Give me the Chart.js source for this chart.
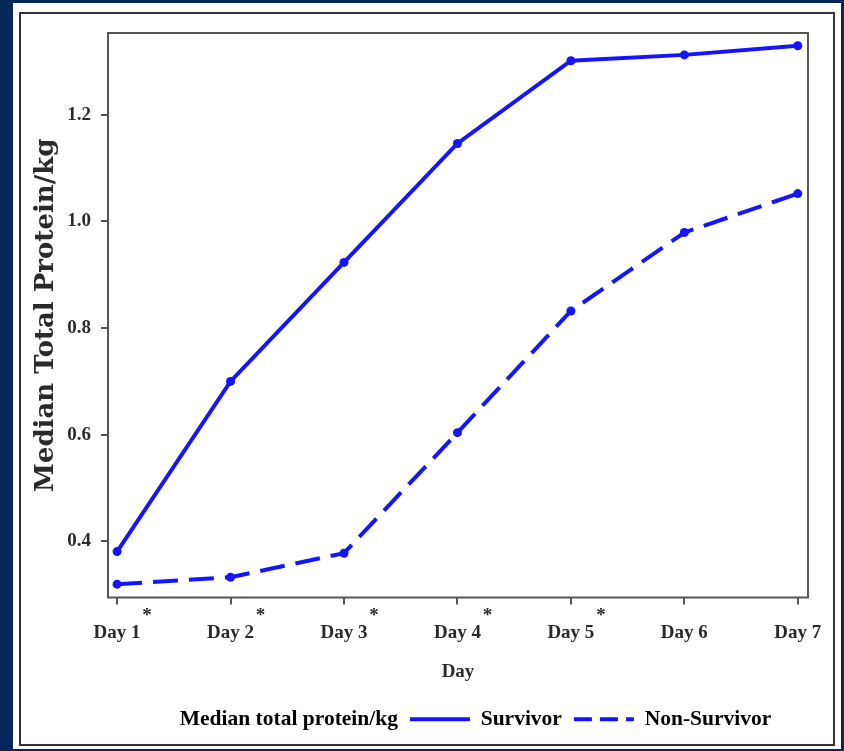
<!DOCTYPE html>
<html>
<head>
<meta charset="utf-8">
<title>Median Total Protein/kg</title>
<script src="https://cdn.jsdelivr.net/npm/chart.js@4.4.1/dist/chart.umd.min.js"></script>
<style>
    html, body { margin: 0; padding: 0; }
    body { width: 844px; height: 751px; background: #06275a; position: relative; overflow: hidden; }
    #panel { position: absolute; left: 13px; top: 3px; width: 828px; height: 746px; background: #fff; }
    #frame { position: absolute; left: 6px; top: 9px; width: 812px; height: 730px; border: 2px solid #333; }
</style>
</head>
<body>
<div id="panel">
    <div id="frame"><canvas id="proteinChart"></canvas></div>
</div>
<script>
// data
const days = [1, 2, 3, 4, 5, 6, 7];
const survivor = [0.381, 0.700, 0.923, 1.146, 1.301, 1.312, 1.329];
const nonSurvivor = [0.320, 0.333, 0.378, 0.604, 0.832, 0.979, 1.052];
const yTicks = [0.4, 0.6, 0.8, 1.0, 1.2];
const starredDays = [1, 2, 3, 4, 5];
const legendTitle = 'Median total protein/kg';

const BLUE = '#1414ff';
const INK = '#2a2a2a';
const SERIF = "'Liberation Serif', 'Times New Roman', serif";

// box around the plot area
const plotFrame = {
    id: 'plotFrame',
    afterDraw(chart) {
        const a = chart.chartArea;
        const ctx = chart.ctx;
        ctx.save();
        ctx.strokeStyle = '#555';
        ctx.lineWidth = 2;
        ctx.strokeRect(a.left, a.top, a.right - a.left, a.bottom - a.top);
        ctx.restore();
    }
};

// superscript asterisks after the significant day labels
const starMarks = {
    id: 'starMarks',
    afterDraw(chart) {
        const x = chart.scales.x;
        const ctx = chart.ctx;
        ctx.save();
        ctx.fillStyle = INK;
        ctx.font = 'bold 19px ' + SERIF;
        ctx.textAlign = 'center';
        ctx.textBaseline = 'top';
        starredDays.forEach(function(d) {
            ctx.fillText('*', x.getPixelForValue(d) + 30, x.top + 9);
        });
        ctx.restore();
    }
};

// legend row starts a bit right of the canvas edge, like the figure
const legendShift = {
    id: 'legendShift',
    afterLayout(chart) {
        const lg = chart.legend;
        const dx = 76 - lg.left;
        lg.left += dx;
        lg.right += dx;
    }
};

const ctx = document.getElementById('proteinChart');

new Chart(ctx, {
    type: 'line',
    data: {
        datasets: [{
            label: 'Survivor',
            data: days.map((d, i) => ({ x: d, y: survivor[i] })),
            borderColor: BLUE,
            backgroundColor: BLUE,
            borderWidth: 4,
            pointRadius: 4.5,
            pointBackgroundColor: BLUE,
            pointBorderWidth: 0,
            tension: 0
        }, {
            label: 'Non-Survivor',
            data: days.map((d, i) => ({ x: d, y: nonSurvivor[i] })),
            borderColor: BLUE,
            backgroundColor: BLUE,
            borderWidth: 4,
            borderDash: [25, 11],
            pointRadius: 4.5,
            pointBackgroundColor: BLUE,
            pointBorderWidth: 0,
            tension: 0
        }]
    },
    options: {
        responsive: true,
        maintainAspectRatio: false,
        animation: false,
        layout: {
            padding: { top: 19, right: 25, left: 0, bottom: 4 }
        },
        plugins: {
            tooltip: { enabled: false },
            legend: {
                display: true,
                position: 'bottom',
                align: 'start',
                labels: {
                    font: { family: SERIF, size: 21.5, weight: 'bold' },
                    color: INK,
                    usePointStyle: true,
                    pointStyleWidth: 60,
                    boxHeight: 21,
                    padding: 12,
                    generateLabels: function(chart) {
                        return [{
                            text: legendTitle,
                            pointStyle: 'line',
                            strokeStyle: 'rgba(0,0,0,0)',
                            fillStyle: 'rgba(0,0,0,0)',
                            lineWidth: 0
                        }, {
                            text: 'Survivor',
                            pointStyle: 'line',
                            strokeStyle: BLUE,
                            fillStyle: BLUE,
                            lineWidth: 4,
                            lineDash: [],
                            datasetIndex: 0
                        }, {
                            text: 'Non-Survivor',
                            pointStyle: 'line',
                            strokeStyle: BLUE,
                            fillStyle: BLUE,
                            lineWidth: 4,
                            lineDash: [18, 8],
                            datasetIndex: 1
                        }];
                    }
                },
                onClick: null
            }
        },
        scales: {
            x: {
                type: 'linear',
                min: 0.92,
                max: 7.09,
                afterBuildTicks: function(scale) {
                    scale.ticks = days.map(v => ({ value: v }));
                },
                afterFit: function(scale) {
                    scale.height = 99;
                    scale.paddingLeft = 0;
                    scale.paddingRight = 0;
                },
                ticks: {
                    font: { family: SERIF, size: 19, weight: 'bold' },
                    color: INK,
                    padding: 17,
                    maxRotation: 0,
                    callback: function(v) { return 'Day ' + v; }
                },
                title: {
                    display: true,
                    text: 'Day',
                    font: { family: SERIF, size: 19, weight: 'bold' },
                    color: INK,
                    padding: { top: 0, bottom: 13 }
                },
                grid: {
                    display: true,
                    drawOnChartArea: false,
                    drawTicks: true,
                    tickLength: 7,
                    color: '#555',
                    lineWidth: 2
                },
                border: { display: false }
            },
            y: {
                min: 0.295,
                max: 1.353,
                afterBuildTicks: function(scale) {
                    scale.ticks = yTicks.map(v => ({ value: v }));
                },
                afterFit: function(scale) {
                    scale.width = 87;
                    scale.paddingTop = 0;
                    scale.paddingBottom = 0;
                },
                ticks: {
                    font: { family: SERIF, size: 19, weight: 'bold' },
                    color: INK,
                    padding: 10,
                    callback: function(v) { return v.toFixed(1); }
                },
                title: {
                    display: true,
                    text: 'Median Total Protein/kg',
                    font: { family: "'DejaVu Serif', serif", size: 26, weight: 'bold' },
                    color: INK,
                    padding: { top: 10, bottom: 0 }
                },
                grid: {
                    display: true,
                    drawOnChartArea: false,
                    drawTicks: true,
                    tickLength: 7,
                    color: '#555',
                    lineWidth: 2
                },
                border: { display: false }
            }
        }
    },
    plugins: [plotFrame, starMarks, legendShift]
});
</script>
</body>
</html>
